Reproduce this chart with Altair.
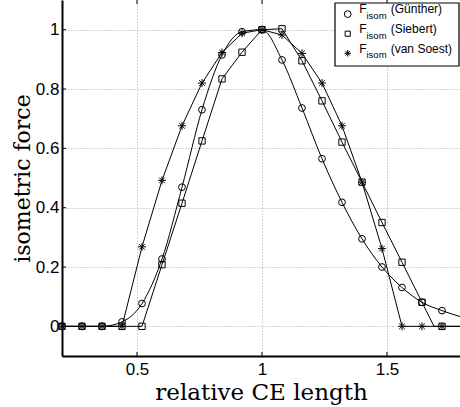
import altair as alt
import pandas as pd

# ---- data ----
lengths = [0.2, 0.28, 0.36, 0.44, 0.52, 0.6, 0.68, 0.76, 0.84, 0.92,
           1.0, 1.08, 1.16, 1.24, 1.32, 1.4, 1.48, 1.56, 1.64, 1.72]
guenther = [0, 0, 0, 0.015, 0.077, 0.227, 0.469, 0.73, 0.915, 0.993,
            1.0, 0.898, 0.736, 0.565, 0.418, 0.295, 0.2, 0.131, 0.081, 0.053]
siebert = [0, 0, 0, 0, 0, 0.208, 0.415, 0.625, 0.834, 0.924,
           1.0, 1.003, 0.895, 0.76, 0.621, 0.486, 0.35, 0.216, 0.081, 0]
van_soest = [0, 0, 0, 0, 0.268, 0.492, 0.676, 0.82, 0.923, 0.988,
             1.0, 0.982, 0.92, 0.82, 0.676, 0.486, 0.262, 0, 0, 0]

# extra line vertices without markers (line continues past last marker / kink)
guenther_extra_x = [1.8]
guenther_extra_y = [0.031]
siebert_extra_x = [1.688, 1.8]
siebert_extra_y = [0.0, 0.0]
van_soest_extra_x = [1.8]
van_soest_extra_y = [0.0]

series_names = ["Günther", "Siebert", "van Soest"]
x_ticks = [0.5, 1.0, 1.5]
y_ticks = [0, 0.2, 0.4, 0.6, 0.8, 1.0]
x_title = "relative CE length"
y_title = "isometric force"
legend_main = "F"
legend_sub = "isom"

STAR = "M-1,0L1,0M0,-1L0,1M-0.7,-0.7L0.7,0.7M-0.7,0.7L0.7,-0.7"

xscale = alt.Scale(domain=[0.2, 1.792], nice=False, zero=False)
yscale = alt.Scale(domain=[-0.1, 1.1], nice=False, zero=False)

common_axis = dict(
    grid=True, gridColor="#a8a8a8", gridDash=[1, 2], gridWidth=1,
    ticks=False, domainColor="black", domainWidth=2,
    labelFont="Liberation Sans", labelFontSize=17, labelColor="black",
    labelFlush=False,
    titleFont="DejaVu Serif", titleFontWeight="normal",
    titleColor="black",
)
xaxis = alt.Axis(title=x_title, values=x_ticks, format="~g", labelPadding=5,
                 titlePadding=4, titleFontSize=23, **common_axis)
yaxis = alt.Axis(title=y_title, values=y_ticks, format="~g", labelPadding=3,
                 titlePadding=1, titleFontSize=22, **common_axis)


def X(field):
    return alt.X(field, type="quantitative", scale=xscale, axis=xaxis)


def Y(field):
    return alt.Y(field, type="quantitative", scale=yscale, axis=yaxis)


def line_df(xs, ys, ex, ey):
    d = pd.DataFrame({"x": list(xs) + list(ex), "y": list(ys) + list(ey)})
    return d.sort_values("x")


layers = []
series = [
    (guenther, guenther_extra_x, guenther_extra_y, "monotone", "circle", 46),
    (siebert, siebert_extra_x, siebert_extra_y, "linear", "square", 40),
    (van_soest, van_soest_extra_x, van_soest_extra_y, "linear", STAR, 64),
]
for vals, ex, ey, interp, shape, size in series:
    layers.append(
        alt.Chart(line_df(lengths, vals, ex, ey))
        .mark_line(color="black", strokeWidth=1, interpolate=interp, clip=True)
        .encode(x=X("x"), y=Y("y"))
    )
for vals, ex, ey, interp, shape, size in series:
    layers.append(
        alt.Chart(pd.DataFrame({"x": lengths, "y": vals}))
        .mark_point(shape=shape, size=size, filled=False, color="black",
                    strokeWidth=1, opacity=1)
        .encode(x=X("x"), y=Y("y"))
    )

# inward ticks (left, top, bottom)
yt = pd.DataFrame({"y": y_ticks})
xt = pd.DataFrame({"x": x_ticks})
layers.append(alt.Chart(yt).mark_rule(color="black", strokeWidth=1)
              .encode(y=Y("y"), x=alt.value(0), x2=alt.value(4)))
layers.append(alt.Chart(xt).mark_rule(color="black", strokeWidth=1)
              .encode(x=X("x"), y=alt.value(0), y2=alt.value(4)))
layers.append(alt.Chart(xt).mark_rule(color="black", strokeWidth=1)
              .encode(x=X("x"), y=alt.value(356), y2=alt.value(352)))

# legend box
one = pd.DataFrame({"a": [0]})
layers.append(alt.Chart(one).mark_rect(fill="white", stroke="black", strokeWidth=1.2)
              .encode(x=alt.value(273), x2=alt.value(397),
                      y=alt.value(3), y2=alt.value(66)))
leg_shapes = [("circle", 46), ("square", 26), (STAR, 42)]
for i, name in enumerate(series_names):
    base = 13.3 + 19.6 * i
    shape, size = leg_shapes[i]
    layers.append(alt.Chart(one).mark_point(shape=shape, size=size, filled=False,
                                            color="black", strokeWidth=1, opacity=1)
                  .encode(x=alt.value(285.7), y=alt.value(base + 0.8)))
    d = pd.DataFrame({"t": [legend_main], "s": [legend_sub], "n": ["(" + name + ")"]})
    layers.append(alt.Chart(d).mark_text(align="left", baseline="alphabetic",
                                         font="Liberation Sans", fontSize=12, color="black")
                  .encode(x=alt.value(297.3), y=alt.value(base), text="t:N"))
    layers.append(alt.Chart(d).mark_text(align="left", baseline="alphabetic",
                                         font="Liberation Sans", fontSize=9.5, color="black")
                  .encode(x=alt.value(304.5), y=alt.value(base + 5.6), text="s:N"))
    layers.append(alt.Chart(d).mark_text(align="left", baseline="alphabetic",
                                         font="Liberation Sans", fontSize=12, color="black")
                  .encode(x=alt.value(328.7), y=alt.value(base), text="n:N"))

chart = (
    alt.layer(*layers)
    .properties(width=398, height=356,
                padding={"left": 62, "top": 0, "right": 0, "bottom": 51},
                autosize=alt.AutoSizeParams(type="none"),
                background="white")
    .configure_view(stroke=None)
)

chart.save("out.html", embed_options={"renderer": "svg", "actions": False})
